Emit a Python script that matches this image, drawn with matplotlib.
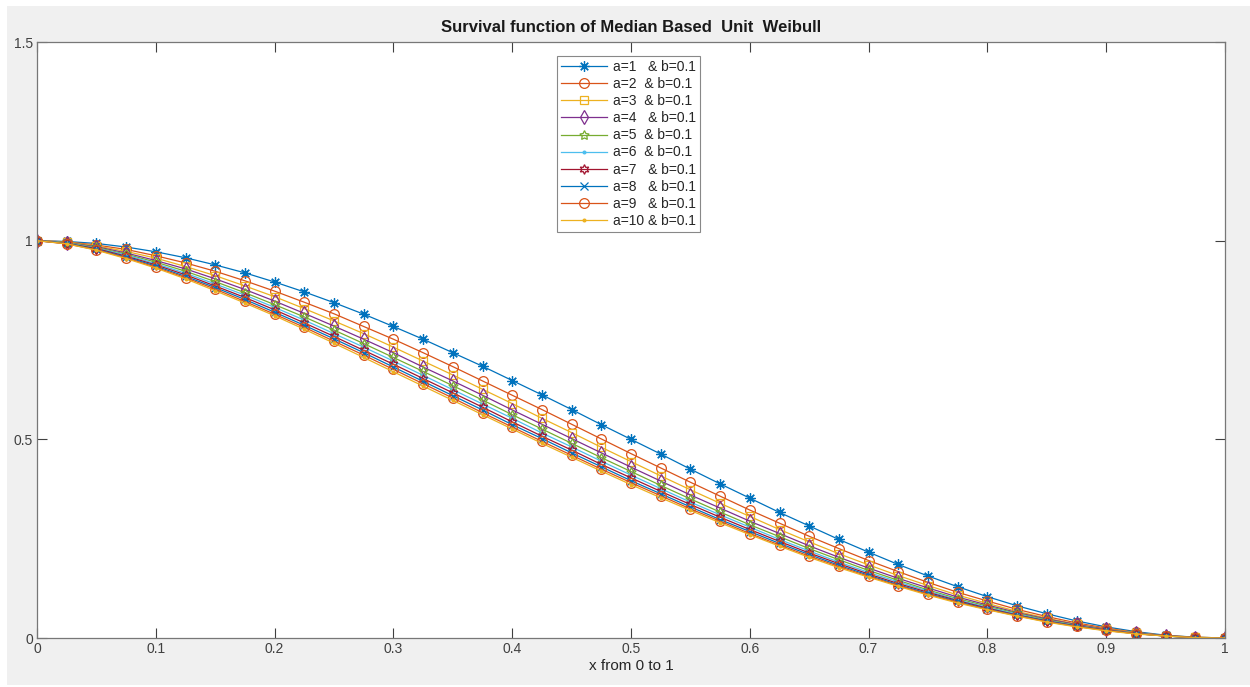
import matplotlib
matplotlib.use("Agg")
import matplotlib.pyplot as plt
from matplotlib.patches import Rectangle

# ---------------- data ----------------
x_vals = [0.000, 0.025, 0.050, 0.075, 0.100, 0.125, 0.150, 0.175, 0.200, 0.225,
          0.250, 0.275, 0.300, 0.325, 0.350, 0.375, 0.400, 0.425, 0.450, 0.475,
          0.500, 0.525, 0.550, 0.575, 0.600, 0.625, 0.650, 0.675, 0.700, 0.725,
          0.750, 0.775, 0.800, 0.825, 0.850, 0.875, 0.900, 0.925, 0.950, 0.975,
          1.000]

s_a1 = [1.000, 0.998, 0.993, 0.984, 0.972, 0.957, 0.939, 0.919, 0.896, 0.871,
        0.844, 0.815, 0.784, 0.752, 0.718, 0.684, 0.648, 0.612, 0.575, 0.537,
        0.500, 0.463, 0.425, 0.388, 0.352, 0.316, 0.282, 0.248, 0.216, 0.185,
        0.156, 0.129, 0.104, 0.081, 0.061, 0.043, 0.028, 0.016, 0.007, 0.002, 0.000]
s_a2 = [1.000, 0.997, 0.989, 0.978, 0.962, 0.944, 0.923, 0.899, 0.873, 0.845,
        0.816, 0.784, 0.752, 0.718, 0.683, 0.647, 0.611, 0.575, 0.538, 0.501,
        0.464, 0.428, 0.392, 0.357, 0.322, 0.289, 0.256, 0.225, 0.195, 0.167,
        0.140, 0.115, 0.093, 0.072, 0.054, 0.038, 0.025, 0.014, 0.006, 0.002, 0.000]
s_a3 = [1.000, 0.996, 0.987, 0.973, 0.956, 0.935, 0.912, 0.886, 0.859, 0.829,
        0.798, 0.766, 0.732, 0.697, 0.662, 0.626, 0.590, 0.553, 0.517, 0.480,
        0.444, 0.408, 0.373, 0.339, 0.306, 0.273, 0.242, 0.212, 0.184, 0.157,
        0.132, 0.108, 0.087, 0.067, 0.050, 0.035, 0.023, 0.013, 0.006, 0.002, 0.000]
s_a4 = [1.000, 0.995, 0.985, 0.969, 0.950, 0.929, 0.904, 0.877, 0.848, 0.817,
        0.785, 0.752, 0.718, 0.682, 0.647, 0.611, 0.574, 0.538, 0.502, 0.466,
        0.430, 0.395, 0.360, 0.327, 0.294, 0.263, 0.232, 0.203, 0.176, 0.150,
        0.126, 0.103, 0.083, 0.064, 0.048, 0.034, 0.022, 0.012, 0.006, 0.001, 0.000]
s_a5 = [1.000, 0.995, 0.983, 0.966, 0.946, 0.923, 0.897, 0.869, 0.839, 0.808,
        0.775, 0.741, 0.706, 0.671, 0.635, 0.599, 0.562, 0.526, 0.490, 0.454,
        0.419, 0.384, 0.350, 0.317, 0.285, 0.255, 0.225, 0.197, 0.170, 0.145,
        0.121, 0.099, 0.080, 0.062, 0.046, 0.032, 0.021, 0.012, 0.005, 0.001, 0.000]
s_a6 = [1.000, 0.994, 0.981, 0.964, 0.942, 0.918, 0.891, 0.863, 0.832, 0.800,
        0.766, 0.732, 0.697, 0.661, 0.625, 0.589, 0.553, 0.516, 0.481, 0.445,
        0.410, 0.376, 0.342, 0.310, 0.279, 0.248, 0.219, 0.191, 0.165, 0.141,
        0.118, 0.096, 0.077, 0.060, 0.044, 0.031, 0.020, 0.012, 0.005, 0.001, 0.000]
s_a7 = [1.000, 0.993, 0.980, 0.961, 0.939, 0.914, 0.886, 0.857, 0.826, 0.793,
        0.759, 0.724, 0.689, 0.653, 0.617, 0.581, 0.544, 0.508, 0.473, 0.437,
        0.403, 0.369, 0.336, 0.304, 0.273, 0.243, 0.214, 0.187, 0.161, 0.137,
        0.115, 0.094, 0.075, 0.058, 0.043, 0.030, 0.020, 0.011, 0.005, 0.001, 0.000]
s_a8 = [1.000, 0.993, 0.978, 0.959, 0.936, 0.910, 0.882, 0.852, 0.820, 0.787,
        0.753, 0.718, 0.682, 0.646, 0.610, 0.574, 0.537, 0.502, 0.466, 0.431,
        0.396, 0.363, 0.330, 0.298, 0.268, 0.238, 0.210, 0.183, 0.158, 0.134,
        0.112, 0.092, 0.073, 0.057, 0.042, 0.030, 0.019, 0.011, 0.005, 0.001, 0.000]
s_a9 = [1.000, 0.992, 0.977, 0.957, 0.933, 0.907, 0.878, 0.847, 0.815, 0.782,
        0.747, 0.712, 0.676, 0.640, 0.604, 0.567, 0.531, 0.495, 0.460, 0.425,
        0.391, 0.358, 0.325, 0.294, 0.263, 0.234, 0.206, 0.180, 0.155, 0.132,
        0.110, 0.090, 0.072, 0.056, 0.041, 0.029, 0.019, 0.011, 0.005, 0.001, 0.000]
s_a10 = [1.000, 0.992, 0.976, 0.955, 0.931, 0.904, 0.874, 0.843, 0.811, 0.777,
         0.742, 0.706, 0.670, 0.634, 0.598, 0.562, 0.526, 0.490, 0.455, 0.420,
         0.386, 0.353, 0.321, 0.290, 0.260, 0.231, 0.203, 0.177, 0.153, 0.130,
         0.108, 0.088, 0.071, 0.055, 0.040, 0.028, 0.018, 0.010, 0.005, 0.001, 0.000]

series = [s_a1, s_a2, s_a3, s_a4, s_a5, s_a6, s_a7, s_a8, s_a9, s_a10]
labels = ["a=1   & b=0.1", "a=2  & b=0.1", "a=3  & b=0.1", "a=4   & b=0.1",
          "a=5  & b=0.1", "a=6  & b=0.1", "a=7   & b=0.1", "a=8   & b=0.1",
          "a=9   & b=0.1", "a=10 & b=0.1"]
x_ticks = [0, 0.1, 0.2, 0.3, 0.4, 0.5, 0.6, 0.7, 0.8, 0.9, 1]
x_tick_labels = ["0", "0.1", "0.2", "0.3", "0.4", "0.5", "0.6", "0.7", "0.8", "0.9", "1"]
y_ticks = [0, 0.5, 1, 1.5]
y_tick_labels = ["0", "0.5", "1", "1.5"]
title = "Survival function of Median Based  Unit  Weibull"
xlabel = "x from 0 to 1"

# ---------------- styles ----------------
colors = ["#0072BD", "#D95319", "#EDB120", "#7E2F8E", "#77AC30",
          "#4DBEEE", "#A2142F", "#0072BD", "#D95319", "#EDB120"]
# MATLAB-like markers: asterisk, circle, square, diamond, pentagram,
# point, hexagram, x, circle, point
markers = [(8, 2, 0), "o", "s", "d", (5, 1, 0), ".", (6, 1, 0), "x", "o", "."]
msizes = [7.5, 7, 6, 7, 7, 4, 7, 6, 7, 4]

plt.rcParams["font.family"] = ["Liberation Sans", "DejaVu Sans"]

fig = plt.figure(figsize=(12.5, 6.87), dpi=100)
fig.patch.set_facecolor("white")
bg = Rectangle((7 / 1250, 2 / 687), 1 - 7 / 1250, 1 - 8 / 687,
               transform=fig.transFigure, facecolor="#f0f0f0",
               edgecolor="none", zorder=-10)
fig.add_artist(bg)

ax = fig.add_axes([37 / 1250, 1 - 638 / 687, (1225 - 37) / 1250, (638 - 42) / 687])
ax.set_zorder(1)
ax.set_facecolor("white")

for ys, c, m, ms, lab in zip(series, colors, markers, msizes, labels):
    mfc = c if m == "." else "none"
    ax.plot(x_vals, ys, color=c, marker=m, markersize=ms, markerfacecolor=mfc,
            markeredgecolor=c, markeredgewidth=0.9, linewidth=0.9, label=lab)

ax.set_xlim(0, 1)
ax.set_ylim(0, 1.5)
ax.set_xticks(x_ticks)
ax.set_xticklabels(x_tick_labels)
ax.set_yticks(y_ticks)
ax.set_yticklabels(y_tick_labels)
ax.tick_params(direction="in", length=7.5, width=0.8, colors="#404040",
               labelsize=10, top=True, right=True, pad=3)
for sp in ax.spines.values():
    sp.set_color("#777777")
    sp.set_linewidth(0.9)

ax.set_title(title, fontsize=12, fontweight="bold", color="#1a1a1a", pad=7)
ax.set_xlabel(xlabel, fontsize=11, color="#262626", labelpad=2)

leg = ax.legend(loc="upper left", bbox_to_anchor=(0.4377, 0.9765), fontsize=10,
                frameon=True, fancybox=False, framealpha=1, edgecolor="#888888",
                handlelength=3.3, handletextpad=0.4, borderpad=0.3,
                labelspacing=0.22, borderaxespad=0)
leg.get_frame().set_linewidth(0.8)
for t in leg.get_texts():
    t.set_color("#262626")

fig.savefig("out.png", dpi=100, facecolor=fig.get_facecolor())
